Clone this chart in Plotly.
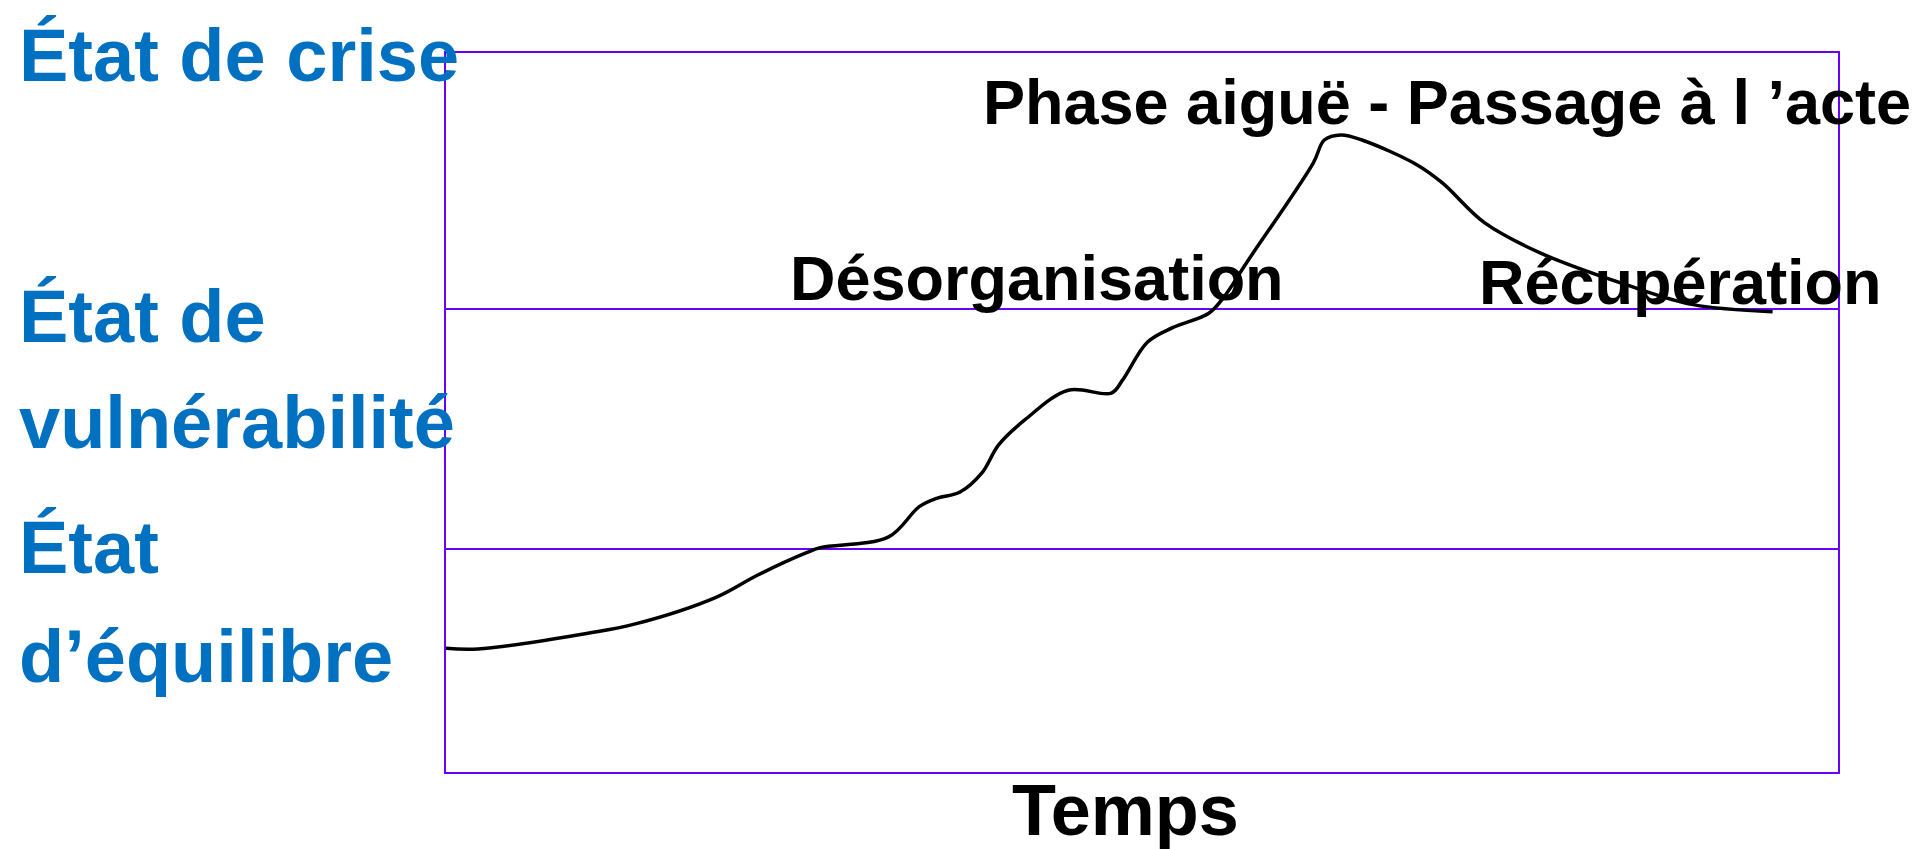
import plotly.graph_objects as go

# Curve: time (0-100 across the frame) and level (0-100 bottom to top)
time_x = [0, 2.3, 10.2, 13.6, 19.4, 22.4, 25.9, 26.9, 31.8, 34.0, 35.3, 36.9, 38.5, 39.7,
          41.6, 44.7, 47.8, 48.6, 50.4, 52.2, 54.8, 55.9, 57.5, 62.3, 63.1, 64.3, 65.8,
          69.8, 71.6, 74.6, 78.6, 85.2, 89.6, 95.3]
level_y = [17.2, 17.1, 19.3, 20.6, 24.3, 27.4, 30.5, 31.2, 32.7, 36.9, 38.1, 38.9, 41.6, 45.5,
           49.0, 53.1, 52.7, 54.5, 59.8, 61.8, 63.8, 66.1, 70.8, 84.7, 87.9, 88.6, 87.9,
           84.4, 81.9, 76.4, 72.2, 67.5, 65.0, 64.0]

# State boundaries (horizontal lines)
state_lines = [31.0, 64.4]

# State labels (left, blue)
state_labels = ["État de crise", "État de", "vulnérabilité", "État", "d’équilibre"]
state_label_y = [99.7, 63.4, 48.6, 31.2, 16.0]

# Phase labels (black)
phase_labels = ["Phase aiguë - Passage à l ’acte", "Désorganisation", "Récupération"]
phase_label_x = [38.4, 24.6, 74.1]
phase_label_y = [93.2, 68.7, 68.2]

x_title = "Temps"

PURPLE = "#6600FF"
BLUE = "#0070C0"
FONT = "Liberation Sans, Arial, sans-serif"

fig = go.Figure()
fig.add_trace(go.Scatter(
    x=time_x, y=level_y, mode="lines",
    line=dict(color="black", width=3.5, shape="spline", smoothing=1),
    cliponaxis=False, hoverinfo="skip", showlegend=False,
))

fig.update_layout(
    width=1918, height=849,
    margin=dict(l=446, r=80, t=53, b=77),
    plot_bgcolor="white", paper_bgcolor="white",
    font=dict(family=FONT),
    xaxis=dict(range=[0, 100], showgrid=False, zeroline=False, showticklabels=False,
               ticks="", showline=True, linecolor=PURPLE, linewidth=2, mirror=True,
               fixedrange=True),
    yaxis=dict(range=[0, 100], tickvals=state_lines, showgrid=True, gridcolor=PURPLE,
               gridwidth=2, zeroline=False, showticklabels=False, ticks="",
               showline=True, linecolor=PURPLE, linewidth=2, mirror=True, fixedrange=True),
)

ann = []
for t, y in zip(state_labels, state_label_y):
    ann.append(dict(text=t, x=-0.308, y=y / 100, xref="paper", yref="paper", xanchor="left",
                    yanchor="middle", showarrow=False,
                    font=dict(family=FONT, size=74, color=BLUE, weight="bold")))
for t, x, y in zip(phase_labels, phase_label_x, phase_label_y):
    ann.append(dict(text=t, x=x / 100, y=y / 100, xref="paper", yref="paper", xanchor="left",
                    yanchor="middle", showarrow=False,
                    font=dict(family=FONT, size=63, color="black", weight="bold")))
ann.append(dict(text=x_title, x=0.405, y=-0.053, xref="paper", yref="paper", xanchor="left",
                yanchor="middle", showarrow=False,
                font=dict(family=FONT, size=72, color="black", weight="bold")))
fig.update_layout(annotations=ann)

fig.write_html(
    "out.html",
    config={"displayModeBar": False},
    post_script="document.body.style.margin='0';document.body.style.overflow='hidden';",
)
